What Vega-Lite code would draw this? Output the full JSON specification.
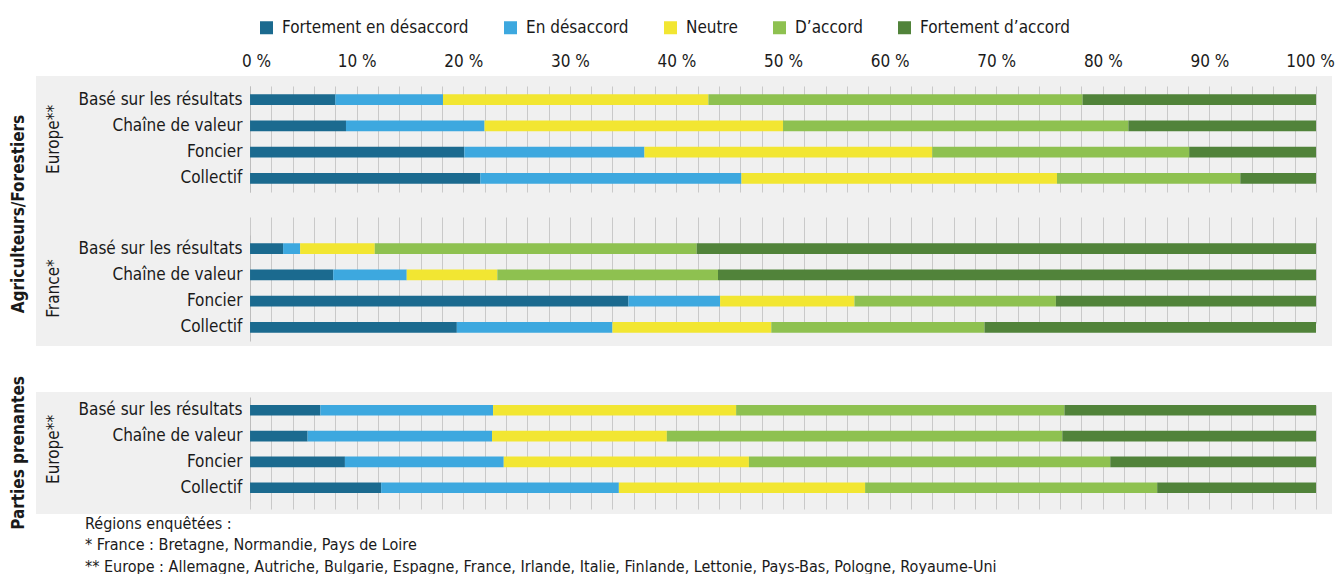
{
  "$schema": "https://vega.github.io/schema/vega-lite/v6.json",
  "padding": {"left": 9, "top": 19, "right": 0, "bottom": 0},
  "config": {
    "font": "Liberation Sans Narrow, DejaVu Sans Condensed, sans-serif",
    "view": {"fill": "#f0f0f0", "stroke": null},
    "axis": {"labelColor": "#1a1a1a", "titleColor": "#1a1a1a", "labelFontSize": 17, "titleFontSize": 17, "titleFontWeight": "normal", "labelLimit": 0},
    "legend": {"labelColor": "#1a1a1a", "labelLimit": 0},
    "title": {"color": "#1a1a1a"},
    "bar": {"stroke": null}
  },
  "title": {
    "text": ["Régions enquêtées :", "* France : Bretagne, Normandie, Pays de Loire", "** Europe : Allemagne, Autriche, Bulgarie, Espagne, France, Irlande, Italie, Finlande, Lettonie, Pays-Bas, Pologne, Royaume-Uni"],
    "orient": "bottom", "anchor": "start", "fontSize": 16, "fontWeight": "normal", "lineHeight": 21.5, "offset": -14, "dx": 75
  },
  "datasets": {
    "d": [
      {"panel": "AE", "cat": "Basé sur les résultats", "rep": "Fortement en désaccord", "lvl": 1, "v": 8.0},
      {"panel": "AE", "cat": "Basé sur les résultats", "rep": "En désaccord", "lvl": 2, "v": 10.1},
      {"panel": "AE", "cat": "Basé sur les résultats", "rep": "Neutre", "lvl": 3, "v": 24.9},
      {"panel": "AE", "cat": "Basé sur les résultats", "rep": "D’accord", "lvl": 4, "v": 35.1},
      {"panel": "AE", "cat": "Basé sur les résultats", "rep": "Fortement d’accord", "lvl": 5, "v": 21.9},
      {"panel": "AE", "cat": "Chaîne de valeur", "rep": "Fortement en désaccord", "lvl": 1, "v": 9.0},
      {"panel": "AE", "cat": "Chaîne de valeur", "rep": "En désaccord", "lvl": 2, "v": 13.0},
      {"panel": "AE", "cat": "Chaîne de valeur", "rep": "Neutre", "lvl": 3, "v": 28.0},
      {"panel": "AE", "cat": "Chaîne de valeur", "rep": "D’accord", "lvl": 4, "v": 32.4},
      {"panel": "AE", "cat": "Chaîne de valeur", "rep": "Fortement d’accord", "lvl": 5, "v": 17.6},
      {"panel": "AE", "cat": "Foncier", "rep": "Fortement en désaccord", "lvl": 1, "v": 20.1},
      {"panel": "AE", "cat": "Foncier", "rep": "En désaccord", "lvl": 2, "v": 16.9},
      {"panel": "AE", "cat": "Foncier", "rep": "Neutre", "lvl": 3, "v": 27.0},
      {"panel": "AE", "cat": "Foncier", "rep": "D’accord", "lvl": 4, "v": 24.1},
      {"panel": "AE", "cat": "Foncier", "rep": "Fortement d’accord", "lvl": 5, "v": 11.9},
      {"panel": "AE", "cat": "Collectif", "rep": "Fortement en désaccord", "lvl": 1, "v": 21.6},
      {"panel": "AE", "cat": "Collectif", "rep": "En désaccord", "lvl": 2, "v": 24.5},
      {"panel": "AE", "cat": "Collectif", "rep": "Neutre", "lvl": 3, "v": 29.6},
      {"panel": "AE", "cat": "Collectif", "rep": "D’accord", "lvl": 4, "v": 17.2},
      {"panel": "AE", "cat": "Collectif", "rep": "Fortement d’accord", "lvl": 5, "v": 7.1},
      {"panel": "AF", "cat": "Basé sur les résultats", "rep": "Fortement en désaccord", "lvl": 1, "v": 3.1},
      {"panel": "AF", "cat": "Basé sur les résultats", "rep": "En désaccord", "lvl": 2, "v": 1.6},
      {"panel": "AF", "cat": "Basé sur les résultats", "rep": "Neutre", "lvl": 3, "v": 7.0},
      {"panel": "AF", "cat": "Basé sur les résultats", "rep": "D’accord", "lvl": 4, "v": 30.2},
      {"panel": "AF", "cat": "Basé sur les résultats", "rep": "Fortement d’accord", "lvl": 5, "v": 58.1},
      {"panel": "AF", "cat": "Chaîne de valeur", "rep": "Fortement en désaccord", "lvl": 1, "v": 7.8},
      {"panel": "AF", "cat": "Chaîne de valeur", "rep": "En désaccord", "lvl": 2, "v": 6.9},
      {"panel": "AF", "cat": "Chaîne de valeur", "rep": "Neutre", "lvl": 3, "v": 8.5},
      {"panel": "AF", "cat": "Chaîne de valeur", "rep": "D’accord", "lvl": 4, "v": 20.7},
      {"panel": "AF", "cat": "Chaîne de valeur", "rep": "Fortement d’accord", "lvl": 5, "v": 56.1},
      {"panel": "AF", "cat": "Foncier", "rep": "Fortement en désaccord", "lvl": 1, "v": 35.5},
      {"panel": "AF", "cat": "Foncier", "rep": "En désaccord", "lvl": 2, "v": 8.6},
      {"panel": "AF", "cat": "Foncier", "rep": "Neutre", "lvl": 3, "v": 12.6},
      {"panel": "AF", "cat": "Foncier", "rep": "D’accord", "lvl": 4, "v": 18.9},
      {"panel": "AF", "cat": "Foncier", "rep": "Fortement d’accord", "lvl": 5, "v": 24.4},
      {"panel": "AF", "cat": "Collectif", "rep": "Fortement en désaccord", "lvl": 1, "v": 19.4},
      {"panel": "AF", "cat": "Collectif", "rep": "En désaccord", "lvl": 2, "v": 14.6},
      {"panel": "AF", "cat": "Collectif", "rep": "Neutre", "lvl": 3, "v": 14.9},
      {"panel": "AF", "cat": "Collectif", "rep": "D’accord", "lvl": 4, "v": 20.0},
      {"panel": "AF", "cat": "Collectif", "rep": "Fortement d’accord", "lvl": 5, "v": 31.1},
      {"panel": "PE", "cat": "Basé sur les résultats", "rep": "Fortement en désaccord", "lvl": 1, "v": 6.6},
      {"panel": "PE", "cat": "Basé sur les résultats", "rep": "En désaccord", "lvl": 2, "v": 16.2},
      {"panel": "PE", "cat": "Basé sur les résultats", "rep": "Neutre", "lvl": 3, "v": 22.8},
      {"panel": "PE", "cat": "Basé sur les résultats", "rep": "D’accord", "lvl": 4, "v": 30.8},
      {"panel": "PE", "cat": "Basé sur les résultats", "rep": "Fortement d’accord", "lvl": 5, "v": 23.6},
      {"panel": "PE", "cat": "Chaîne de valeur", "rep": "Fortement en désaccord", "lvl": 1, "v": 5.4},
      {"panel": "PE", "cat": "Chaîne de valeur", "rep": "En désaccord", "lvl": 2, "v": 17.3},
      {"panel": "PE", "cat": "Chaîne de valeur", "rep": "Neutre", "lvl": 3, "v": 16.4},
      {"panel": "PE", "cat": "Chaîne de valeur", "rep": "D’accord", "lvl": 4, "v": 37.1},
      {"panel": "PE", "cat": "Chaîne de valeur", "rep": "Fortement d’accord", "lvl": 5, "v": 23.8},
      {"panel": "PE", "cat": "Foncier", "rep": "Fortement en désaccord", "lvl": 1, "v": 8.9},
      {"panel": "PE", "cat": "Foncier", "rep": "En désaccord", "lvl": 2, "v": 14.9},
      {"panel": "PE", "cat": "Foncier", "rep": "Neutre", "lvl": 3, "v": 23.0},
      {"panel": "PE", "cat": "Foncier", "rep": "D’accord", "lvl": 4, "v": 33.9},
      {"panel": "PE", "cat": "Foncier", "rep": "Fortement d’accord", "lvl": 5, "v": 19.3},
      {"panel": "PE", "cat": "Collectif", "rep": "Fortement en désaccord", "lvl": 1, "v": 12.3},
      {"panel": "PE", "cat": "Collectif", "rep": "En désaccord", "lvl": 2, "v": 22.3},
      {"panel": "PE", "cat": "Collectif", "rep": "Neutre", "lvl": 3, "v": 23.1},
      {"panel": "PE", "cat": "Collectif", "rep": "D’accord", "lvl": 4, "v": 27.4},
      {"panel": "PE", "cat": "Collectif", "rep": "Fortement d’accord", "lvl": 5, "v": 14.9}
    ]
  },
  "vconcat": [
    {
      "title": {"text": "Agriculteurs/Forestiers", "orient": "left", "anchor": "middle", "fontSize": 17, "fontWeight": "bold", "offset": 8, "dx": -15},
      "spacing": 0,
      "vconcat": [
        {
          "width": 1296, "height": 136,
          "data": {"name": "d"},
          "transform": [{"filter": "datum.panel === 'AE'"}],
          "mark": {"type": "bar"},
          "encoding": {
            "y": {"field": "cat", "type": "nominal", "sort": ["Basé sur les résultats", "Chaîne de valeur", "Foncier", "Collectif"],
              "scale": {"range": [10, 116], "paddingInner": 0.59, "paddingOuter": 0.31},
              "axis": {"title": "Europe**", "offset": -214, "ticks": false, "labelPadding": 8, "domainColor": "#bdbdbd", "titlePadding": 16}},
            "x": {"field": "v", "type": "quantitative", "stack": "zero",
              "scale": {"domain": [-20.08, 101.5], "nice": false, "zero": false},
              "axis": {"orient": "top", "title": null, "values": [0,2,4,6,8,10,12,14,16,18,20,22,24,26,28,30,32,34,36,38,40,42,44,46,48,50,52,54,56,58,60,62,64,66,68,70,72,74,76,78,80,82,84,86,88,90,92,94,96,98,100],
                "labelExpr": "datum.value % 10 === 0 ? datum.value + ' %' : ''", "labelOverlap": false, "ticks": false, "domain": false, "grid": true, "gridColor": "#c9c9c9", "labelPadding": 6, "labelFontSize": 17,
                "labelOffset": {"condition": [{"test": "datum.value === 0", "value": 6}, {"test": "datum.value === 100", "value": -6}], "value": 0}}},
            "color": {"field": "rep", "type": "nominal", "sort": ["Fortement en désaccord", "En désaccord", "Neutre", "D’accord", "Fortement d’accord"],
              "scale": {"domain": ["Fortement en désaccord", "En désaccord", "Neutre", "D’accord", "Fortement d’accord"], "range": ["#1b6a8f", "#3da8df", "#f2e632", "#8ec150", "#51833a"]},
              "legend": {"orient": "none", "direction": "horizontal", "legendX": 222, "legendY": -57, "title": null, "symbolType": "square", "symbolSize": 169, "symbolStrokeWidth": 0, "labelFontSize": 17, "labelOffset": 7, "columnPadding": 33}},
            "order": {"field": "lvl", "type": "quantitative"}
          }
        },
        {
          "width": 1296, "height": 134,
          "data": {"name": "d"},
          "transform": [{"filter": "datum.panel === 'AF'"}],
          "mark": {"type": "bar"},
          "encoding": {
            "y": {"field": "cat", "type": "nominal", "sort": ["Basé sur les résultats", "Chaîne de valeur", "Foncier", "Collectif"],
              "scale": {"range": [23, 129], "paddingInner": 0.59, "paddingOuter": 0.31},
              "axis": {"title": "France*", "offset": -214, "ticks": false, "labelPadding": 8, "domainColor": "#bdbdbd", "titlePadding": 16}},
            "x": {"field": "v", "type": "quantitative", "stack": "zero",
              "scale": {"domain": [-20.08, 101.5], "nice": false, "zero": false},
              "axis": {"orient": "bottom", "title": null, "values": [0,2,4,6,8,10,12,14,16,18,20,22,24,26,28,30,32,34,36,38,40,42,44,46,48,50,52,54,56,58,60,62,64,66,68,70,72,74,76,78,80,82,84,86,88,90,92,94,96,98,100],
                "labels": false, "ticks": false, "domain": false, "grid": true, "gridColor": "#c9c9c9"}},
            "color": {"field": "rep", "type": "nominal"},
            "order": {"field": "lvl", "type": "quantitative"}
          }
        }
      ]
    },
    {
      "title": {"text": "Parties prenantes", "orient": "left", "anchor": "middle", "fontSize": 17, "fontWeight": "bold", "offset": 8},
      "width": 1296, "height": 122,
      "data": {"name": "d"},
      "transform": [{"filter": "datum.panel === 'PE'"}],
      "mark": {"type": "bar"},
      "encoding": {
        "y": {"field": "cat", "type": "nominal", "sort": ["Basé sur les résultats", "Chaîne de valeur", "Foncier", "Collectif"],
          "scale": {"range": [5, 109], "paddingInner": 0.59, "paddingOuter": 0.31},
          "axis": {"title": "Europe**", "offset": -214, "ticks": false, "labelPadding": 8, "domainColor": "#bdbdbd", "titlePadding": 16}},
        "x": {"field": "v", "type": "quantitative", "stack": "zero",
          "scale": {"domain": [-20.08, 101.5], "nice": false, "zero": false},
          "axis": {"orient": "bottom", "title": null, "values": [0,2,4,6,8,10,12,14,16,18,20,22,24,26,28,30,32,34,36,38,40,42,44,46,48,50,52,54,56,58,60,62,64,66,68,70,72,74,76,78,80,82,84,86,88,90,92,94,96,98,100],
            "labels": false, "ticks": false, "domain": false, "grid": true, "gridColor": "#c9c9c9"}},
        "color": {"field": "rep", "type": "nominal"},
        "order": {"field": "lvl", "type": "quantitative"}
      }
    }
  ],
  "spacing": 30
}
